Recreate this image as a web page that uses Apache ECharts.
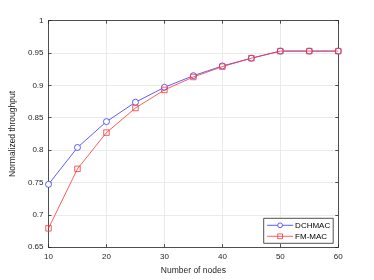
<!DOCTYPE html>
<html><head><meta charset="utf-8">
<script src="https://cdn.jsdelivr.net/npm/echarts@6/dist/echarts.min.js"></script>
<style>html,body{margin:0;padding:0;background:#fff}#c{width:374px;height:280px}</style>
</head><body><div id="c"></div>
<script>
const nodes = [10, 15, 20, 25, 30, 35, 40, 45, 50, 55, 60];
const dchmac = [0.747, 0.804, 0.844, 0.874, 0.897, 0.915, 0.930, 0.942, 0.953, 0.953, 0.953];
const fmmac = [0.679, 0.771, 0.827, 0.865, 0.893, 0.913, 0.929, 0.942, 0.953, 0.953, 0.953];
const xName = 'Number of nodes';
const yName = 'Normalized throughput';

const font = 'Liberation Sans, Arial, sans-serif';
const axisCol = '#262626';
const chart = echarts.init(document.getElementById('c'), null, {renderer: 'canvas'});
const pairs = a => nodes.map((n, i) => [n, a[i]]);
const baseX = {
  type: 'value', min: 10, max: 60, interval: 10,
  axisLine: {show: true, onZero: false, lineStyle: {color: axisCol, width: 0.8}},
  axisTick: {show: true, inside: true, length: 3, lineStyle: {color: axisCol, width: 0.8}},
};
const baseY = {
  type: 'value', min: 0.65, max: 1, interval: 0.05,
  axisLine: {show: true, onZero: false, lineStyle: {color: axisCol, width: 0.8}},
  axisTick: {show: true, inside: true, length: 3, lineStyle: {color: axisCol, width: 0.8}},
};
chart.setOption({
  animation: false,
  backgroundColor: '#fff',
  grid: {left: 48.5, right: 35.7, top: 20.7, bottom: 31, containLabel: false},
  xAxis: [
    Object.assign({}, baseX, {
      position: 'bottom',
      name: xName, nameLocation: 'middle', nameGap: 17,
      nameTextStyle: {color: axisCol, fontSize: 8.5, fontFamily: font},
      axisLabel: {color: axisCol, fontSize: 8, fontFamily: font, margin: 6},
      splitLine: {show: true, lineStyle: {color: '#e6e6e6', width: 0.8}}
    }),
    Object.assign({}, baseX, {
      position: 'top', axisLabel: {show: false}, splitLine: {show: false}
    })
  ],
  yAxis: [
    Object.assign({}, baseY, {
      position: 'left',
      name: yName, nameLocation: 'middle', nameGap: 28,
      nameTextStyle: {color: axisCol, fontSize: 8.5, fontFamily: font},
      axisLabel: {color: axisCol, fontSize: 8, fontFamily: font, margin: 5,
        formatter: v => String(+v.toFixed(2))},
      splitLine: {show: true, lineStyle: {color: '#e6e6e6', width: 0.8}}
    }),
    Object.assign({}, baseY, {
      position: 'right', axisLabel: {show: false}, splitLine: {show: false}
    })
  ],
  legend: {
    orient: 'vertical', left: 263.7, top: 218.3,
    width: 69, itemWidth: 26, itemHeight: 6, itemGap: 3,
    padding: [3, 3, 3, 3],
    backgroundColor: '#fff', borderColor: axisCol, borderWidth: 0.8, borderRadius: 0,
    itemStyle: {borderWidth: 0.8},
    lineStyle: {width: 0.8},
    textStyle: {color: '#000', fontSize: 8, fontFamily: font, padding: [0, 0, 0, -3]},
    data: ['DCHMAC', 'FM-MAC']
  },
  series: [
    {
      name: 'DCHMAC', type: 'line', data: pairs(dchmac),
      symbol: 'circle', symbolSize: 6, showAllSymbol: true,
      lineStyle: {color: '#3333ff', width: 0.8},
      itemStyle: {color: '#fff', borderColor: '#3333ff', borderWidth: 0.8},
      z: 2
    },
    {
      name: 'FM-MAC', type: 'line', data: pairs(fmmac),
      symbol: 'rect', symbolSize: 5.5, showAllSymbol: true,
      lineStyle: {color: '#ff3333', width: 0.8},
      itemStyle: {color: 'rgba(255,255,255,0)', borderColor: '#ff3333', borderWidth: 0.8},
      z: 3
    }
  ]
});
</script></body></html>
